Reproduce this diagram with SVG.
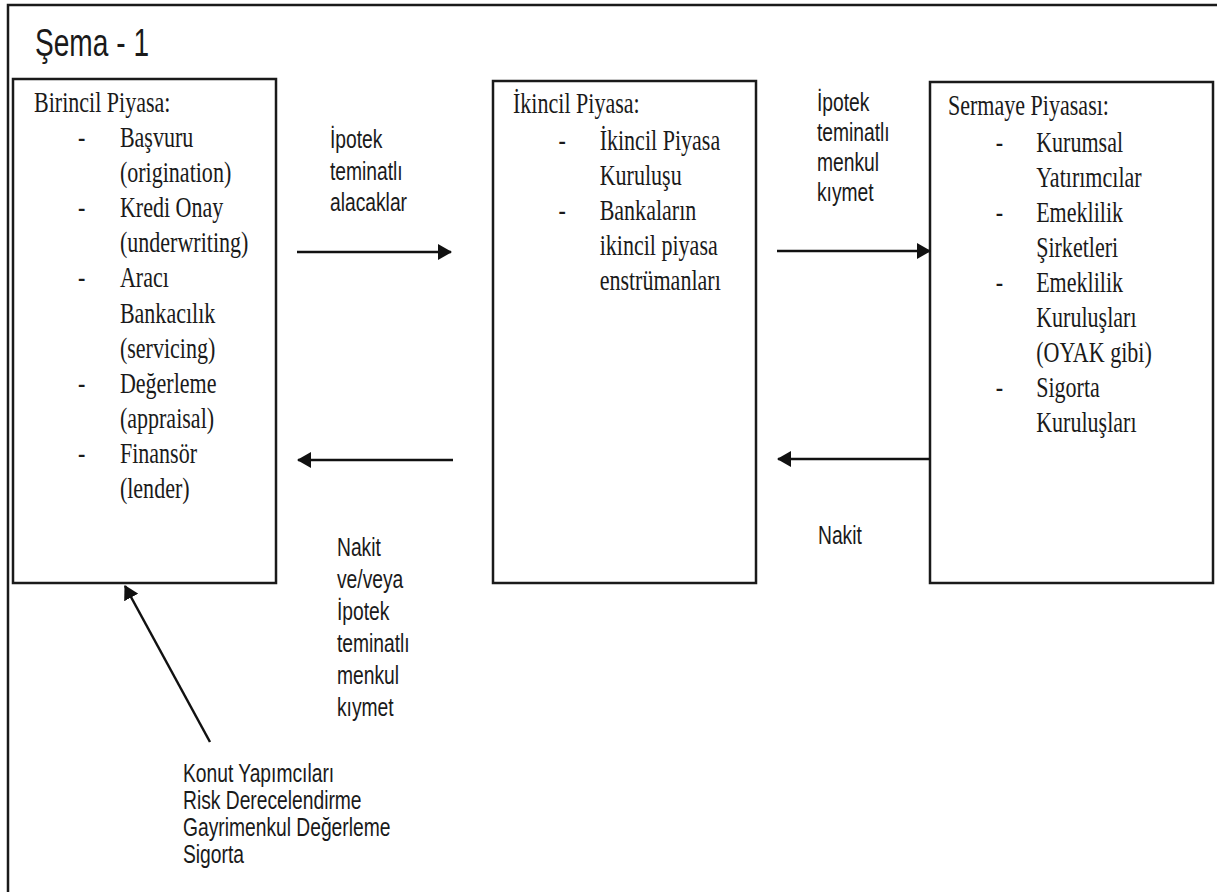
<svg xmlns="http://www.w3.org/2000/svg" width="1217" height="892" viewBox="0 0 1217 892">
<defs>
<marker id="ah" viewBox="0 0 14 16" refX="13" refY="8" markerWidth="14" markerHeight="16" markerUnits="userSpaceOnUse" orient="auto">
<path d="M0,0 L14,8 L0,16 Z" fill="#111"/>
</marker>
<style>
.box{fill:#fff;stroke:#1a1a1a;stroke-width:2.5}
.frame{fill:none;stroke:#1a1a1a;stroke-width:2.5}
.conn{stroke:#111;stroke-width:2.5;fill:none}
.ser{font-family:"Liberation Serif","Times New Roman",serif;font-size:29px;fill:#1a1a1a}
.san{font-family:"Liberation Sans",Arial,sans-serif;font-size:25px;fill:#1a1a1a}
.ttl{font-family:"Liberation Sans",Arial,sans-serif;font-size:38px;fill:#1a1a1a}
</style>
</defs>
<rect width="1217" height="892" fill="#fff"/>
<path class="frame" d="M8,892 V5 H1217"/>
<g id="title" transform="translate(35 0) scale(0.74 1)"><text class="ttl" x="0" y="56">Şema - 1</text></g>

<g id="birincil">
<rect class="box" x="13" y="79" width="263" height="504"/>
<g transform="translate(34 0) scale(0.76 1)">
<text class="ser" x="0" y="112">Birincil Piyasa:</text>
<text class="ser" x="58" y="147">-</text><text class="ser" x="113" y="147">Başvuru</text>
<text class="ser" x="113" y="182">(origination)</text>
<text class="ser" x="58" y="217">-</text><text class="ser" x="113" y="217">Kredi Onay</text>
<text class="ser" x="113" y="252">(underwriting)</text>
<text class="ser" x="58" y="287">-</text><text class="ser" x="113" y="287">Aracı</text>
<text class="ser" x="113" y="323">Bankacılık</text>
<text class="ser" x="113" y="358">(servicing)</text>
<text class="ser" x="58" y="393">-</text><text class="ser" x="113" y="393">Değerleme</text>
<text class="ser" x="113" y="428">(appraisal)</text>
<text class="ser" x="58" y="463">-</text><text class="ser" x="113" y="463">Finansör</text>
<text class="ser" x="113" y="498">(lender)</text>
</g>
</g>

<g id="ikincil">
<rect class="box" x="493" y="81" width="263" height="502"/>
<g transform="translate(513 0) scale(0.76 1)">
<text class="ser" x="0" y="113">İkincil Piyasa:</text>
<text class="ser" x="60" y="150">-</text><text class="ser" x="114" y="150">İkincil Piyasa</text>
<text class="ser" x="114" y="185">Kuruluşu</text>
<text class="ser" x="60" y="220">-</text><text class="ser" x="114" y="220">Bankaların</text>
<text class="ser" x="114" y="255">ikincil piyasa</text>
<text class="ser" x="114" y="290">enstrümanları</text>
</g>
</g>

<g id="sermaye">
<rect class="box" x="930" y="82" width="283" height="501"/>
<g transform="translate(948 0) scale(0.76 1)">
<text class="ser" x="0" y="115">Sermaye Piyasası:</text>
<text class="ser" x="63" y="152">-</text><text class="ser" x="116" y="152">Kurumsal</text>
<text class="ser" x="116" y="187">Yatırımcılar</text>
<text class="ser" x="63" y="222">-</text><text class="ser" x="116" y="222">Emeklilik</text>
<text class="ser" x="116" y="257">Şirketleri</text>
<text class="ser" x="63" y="292">-</text><text class="ser" x="116" y="292">Emeklilik</text>
<text class="ser" x="116" y="327">Kuruluşları</text>
<text class="ser" x="116" y="362">(OYAK gibi)</text>
<text class="ser" x="63" y="397">-</text><text class="ser" x="116" y="397">Sigorta</text>
<text class="ser" x="116" y="432">Kuruluşları</text>
</g>
</g>

<g id="connectors">
<line class="conn" x1="297" y1="252" x2="451" y2="252" marker-end="url(#ah)"/>
<line class="conn" x1="453" y1="460" x2="298" y2="460" marker-end="url(#ah)"/>
<line class="conn" x1="777" y1="251" x2="930" y2="251" marker-end="url(#ah)"/>
<line class="conn" x1="930" y1="459" x2="778" y2="459" marker-end="url(#ah)"/>
<line class="conn" x1="210" y1="742" x2="125" y2="586" marker-end="url(#ah)"/>
</g>

<g id="labels">
<g transform="translate(330 0) scale(0.77 1)">
<text class="san" x="0" y="148">İpotek</text>
<text class="san" x="0" y="180">teminatlı</text>
<text class="san" x="0" y="211">alacaklar</text>
</g>
<g transform="translate(817 0) scale(0.77 1)">
<text class="san" x="0" y="111">İpotek</text>
<text class="san" x="0" y="141">teminatlı</text>
<text class="san" x="0" y="171">menkul</text>
<text class="san" x="0" y="201">kıymet</text>
</g>
<g transform="translate(337 0) scale(0.77 1)">
<text class="san" x="0" y="556">Nakit</text>
<text class="san" x="0" y="588">ve/veya</text>
<text class="san" x="0" y="620">İpotek</text>
<text class="san" x="0" y="652">teminatlı</text>
<text class="san" x="0" y="684">menkul</text>
<text class="san" x="0" y="716">kıymet</text>
</g>
<g transform="translate(818 0) scale(0.77 1)">
<text class="san" x="0" y="544">Nakit</text>
</g>
<g transform="translate(183 0) scale(0.77 1)">
<text class="san" x="0" y="782">Konut Yapımcıları</text>
<text class="san" x="0" y="809">Risk Derecelendirme</text>
<text class="san" x="0" y="836">Gayrimenkul Değerleme</text>
<text class="san" x="0" y="863">Sigorta</text>
</g>
</g>
</svg>
